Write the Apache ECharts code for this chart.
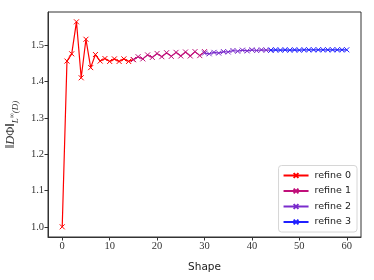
<!DOCTYPE html>
<html>
<head>
<meta charset="utf-8">
<script src="https://cdn.jsdelivr.net/npm/echarts@6/dist/echarts.min.js"></script>
<style>html,body{margin:0;padding:0;background:#fff;}#c{width:374px;height:280px;}</style>
</head>
<body>
<div id="c"></div>
<script>
// ---- data ----
const seriesNames = ['refine 0', 'refine 1', 'refine 2', 'refine 3'];
const shapes0 = [0,1,2,3,4,5,6,7,8,9,10,11,12,13,14,15];
const values0 = [1.000,1.456,1.476,1.564,1.410,1.516,1.438,1.474,1.456,1.463,1.455,1.462,1.455,1.462,1.455,1.460];
const shapes1 = [15,16,17,18,19,20,21,22,23,24,25,26,27,28,29,30];
const values1 = [1.460,1.468,1.462,1.473,1.466,1.477,1.468,1.479,1.469,1.480,1.470,1.481,1.470,1.482,1.471,1.482];
const shapes2 = [30,31,32,33,34,35,36,37,38,39,40,41,42,43,44];
const values2 = [1.478,1.476,1.480,1.478,1.482,1.481,1.485,1.483,1.486,1.484,1.487,1.485,1.487,1.486,1.486];
const shapes3 = [44,45,46,47,48,49,50,51,52,53,54,55,56,57,58,59,60];
const values3 = [1.486,1.487,1.486,1.487,1.486,1.487,1.486,1.487,1.487,1.487,1.487,1.487,1.487,1.487,1.487,1.487,1.487];
const xTicks = [0,10,20,30,40,50,60];
const yTicks = [1.0,1.1,1.2,1.3,1.4,1.5];
const colors = ['#ff0000','#c0107a','#7a2ccc','#2020ff'];

const allShapes = [shapes0, shapes1, shapes2, shapes3];
const allValues = [values0, values1, values2, values3];
const crossPath = 'path://M0,0L10,10M10,0L0,10';

const chart = echarts.init(document.getElementById('c'), null, {renderer: 'canvas'});
const serif = '"Liberation Serif", "DejaVu Serif", serif';
const sans = '"DejaVu Sans", sans-serif';

chart.setOption({
  animation: false,
  backgroundColor: '#fff',
  grid: {left: 48, right: 13, top: 12, bottom: 43, outerBoundsMode: 'none', containLabel: false,
    show: true, borderColor: '#333', borderWidth: 1, backgroundColor: 'transparent'},
  xAxis: {
    type: 'value', min: -3, max: 63,
    name: 'Shape', nameLocation: 'middle', nameGap: 25,
    nameTextStyle: {fontFamily: sans, fontSize: 10.5, color: '#222'},
    axisLine: {show: true, onZero: false, lineStyle: {color: '#333'}},
    splitLine: {show: false},
    axisTick: {show: true, length: 3.5, customValues: xTicks, lineStyle: {color: '#333'}},
    axisLabel: {customValues: xTicks, fontFamily: serif, fontSize: 10.5, color: '#333', margin: 4}
  },
  yAxis: {
    type: 'value', min: 0.972, max: 1.591,
    name: '{n|‖}{d|D}{n|Φ‖}{s|L}{sup|∞}{s|(}{si|D}{s|)}',
    nameLocation: 'middle', nameGap: 29, nameRotate: 90,
    nameTextStyle: {
      color: '#333',
      rich: {
        n: {fontFamily: serif, fontSize: 12.5, color: '#333', verticalAlign: 'bottom', lineHeight: 15},
        d: {fontFamily: serif, fontSize: 12.5, fontStyle: 'italic', color: '#333', verticalAlign: 'bottom', lineHeight: 15},
        s: {fontFamily: serif, fontSize: 9, fontStyle: 'italic', color: '#333', verticalAlign: 'bottom', lineHeight: 11, padding: [0,0,-3,0]},
        si: {fontFamily: serif, fontSize: 9, fontStyle: 'italic', color: '#333', verticalAlign: 'bottom', lineHeight: 11, padding: [0,0,-3,0]},
        sup: {fontFamily: serif, fontSize: 7, color: '#333', verticalAlign: 'bottom', lineHeight: 11, padding: [0,0,1,0]}
      }
    },
    axisLine: {show: true, onZero: false, lineStyle: {color: '#333'}},
    splitLine: {show: false},
    axisTick: {show: true, length: 3.5, customValues: yTicks, lineStyle: {color: '#333'}},
    axisLabel: {customValues: yTicks, fontFamily: serif, fontSize: 10.5, color: '#333', margin: 4,
      formatter: v => v.toFixed(1)}
  },
  legend: {
    orient: 'vertical', right: 17, bottom: 48,
    itemWidth: 25, itemHeight: 6, itemGap: 5.5,
    padding: [5, 6, 5, 4],
    backgroundColor: 'rgba(255,255,255,0.85)',
    borderColor: '#d6d6d6', borderWidth: 1, borderRadius: 3,
    textStyle: {fontFamily: sans, fontSize: 9.5, color: '#222', padding: [0,0,0,1]},
    data: seriesNames
  },
  series: seriesNames.map((name, i) => ({
    name: name,
    type: 'line',
    data: allShapes[i].map((x, k) => [x, allValues[i][k]]),
    symbol: crossPath,
    symbolSize: 5,
    showAllSymbol: true,
    color: colors[i],
    lineStyle: {width: 1.2, color: colors[i]},
    itemStyle: {color: 'transparent', borderColor: colors[i], borderWidth: 1},
    emphasis: {disabled: true},
    z: 2 + i
  }))
});
</script>
</body>
</html>
